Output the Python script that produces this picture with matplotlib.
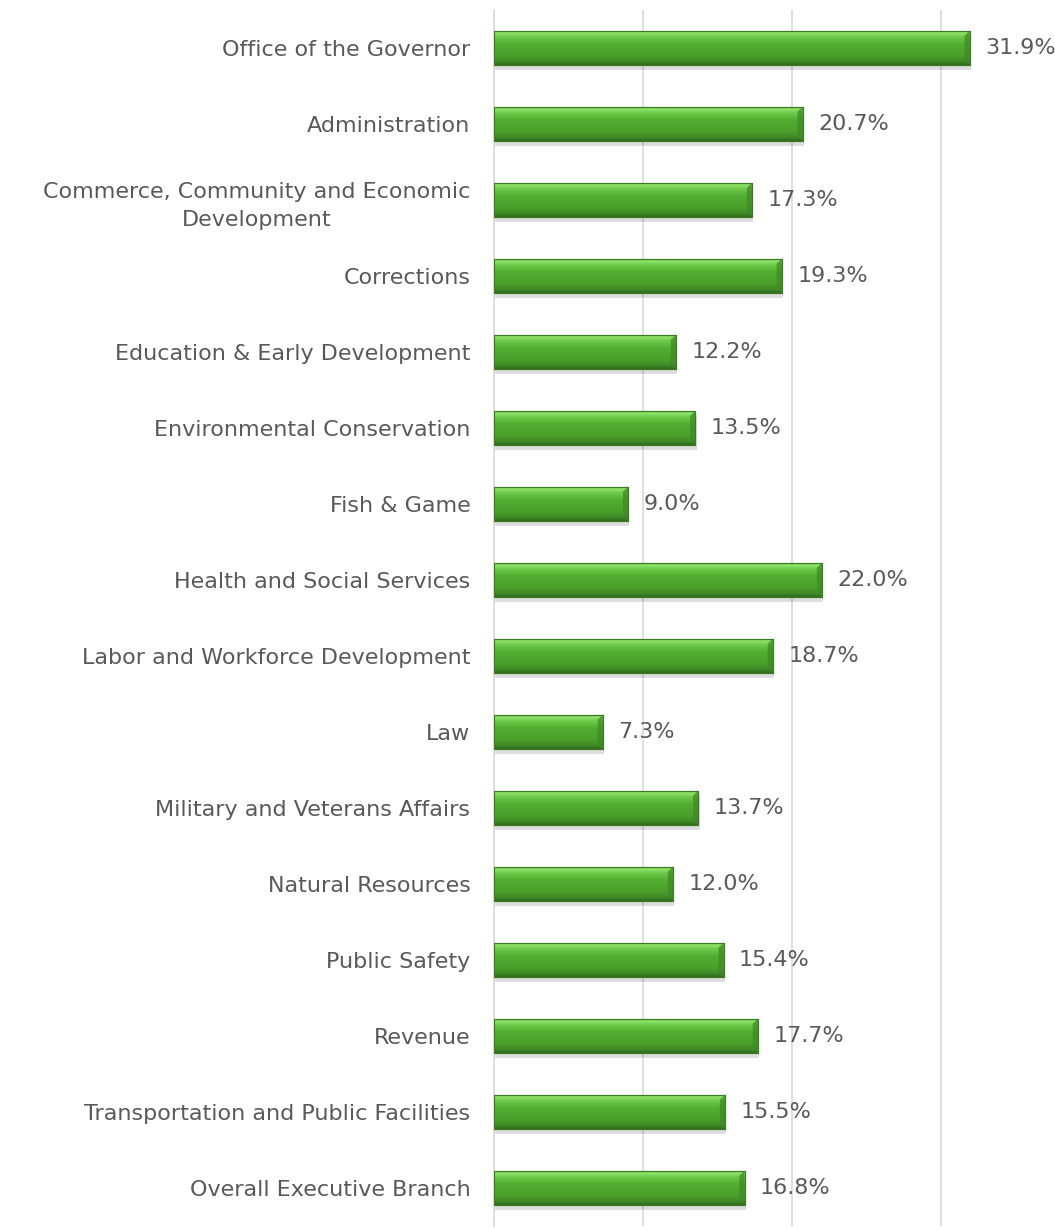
import matplotlib

matplotlib.use("Agg")
import matplotlib.pyplot as plt  # noqa: E402
import numpy as np  # noqa: E402
from matplotlib.colors import LinearSegmentedColormap  # noqa: E402
from matplotlib.patches import Polygon, Rectangle  # noqa: E402

departments = [
    "Office of the Governor",
    "Administration",
    "Commerce, Community and Economic\nDevelopment",
    "Corrections",
    "Education & Early Development",
    "Environmental Conservation",
    "Fish & Game",
    "Health and Social Services",
    "Labor and Workforce Development",
    "Law",
    "Military and Veterans Affairs",
    "Natural Resources",
    "Public Safety",
    "Revenue",
    "Transportation and Public Facilities",
    "Overall Executive Branch",
]
values = [31.9, 20.7, 17.3, 19.3, 12.2, 13.5, 9.0, 22.0, 18.7, 7.3,
          13.7, 12.0, 15.4, 17.7, 15.5, 16.8]
grid_ticks = [0, 10, 20, 30]

TEXT = "#595959"
GRID = "#d9d9d9"
BAR_H = 0.46

# bevel gradient, top -> bottom
bevel = LinearSegmentedColormap.from_list("bevel", [
    (0.00, "#5fae3e"),
    (0.08, "#8fe36b"),
    (0.20, "#6cc948"),
    (0.40, "#52ad31"),
    (0.75, "#4a9f2c"),
    (0.90, "#3f8a25"),
    (1.00, "#336b1d"),
])
grad = np.linspace(0, 1, 64).reshape(-1, 1)

fig = plt.figure(figsize=(10.55, 12.28), dpi=100)
ax = fig.add_axes([494 / 1055, 2 / 1228, (1016 - 494) / 1055, 1216 / 1228])

ypos = list(range(len(values)))

# soft drop shadow
for y, v in zip(ypos, values):
    ax.add_patch(Rectangle((0.08, y - BAR_H / 2 + 0.06), v, BAR_H,
                           facecolor="#000000", alpha=0.13, lw=0, zorder=2))

bars = ax.barh(ypos, values, height=BAR_H, color="#4ea72e", edgecolor="#3a7a22",
               linewidth=0.8, zorder=3)

cap = 0.35  # width of the bevelled end, in data units
for bar, y, v in zip(bars, ypos, values):
    top = y - BAR_H / 2
    bot = y + BAR_H / 2
    im = ax.imshow(grad, cmap=bevel, aspect="auto", origin="upper",
                   extent=[0, v, bot, top], zorder=4,
                   interpolation="bilinear")
    im.set_clip_path(bar)
    # bevelled right end: darker cap with diagonal corner
    ax.add_patch(Polygon([(v - cap, top + 0.07), (v, top), (v, bot),
                          (v - cap, bot - 0.07)], closed=True,
                         facecolor="#3f8a25", alpha=0.75, lw=0, zorder=5))
    ax.add_patch(Rectangle((0, top), v, BAR_H, facecolor="none",
                           edgecolor="#3a7a22", lw=0.8, zorder=6))
    ax.annotate(f"{v:.1f}%", (v, y), xytext=(11, 0), textcoords="offset points",
                ha="left", va="center", fontsize=16, color=TEXT,
                family=["DejaVu Sans"], zorder=7)

ax.set_xlim(0, 35)
ax.set_ylim(len(values) - 0.5, -0.5)
ax.set_xticks(grid_ticks)
ax.set_xticklabels([])
ax.set_yticks(ypos)
ax.set_yticklabels(departments, fontsize=16, color=TEXT,
                   family=["DejaVu Sans"], multialignment="center",
                   linespacing=1.5)
ax.tick_params(axis="both", length=0)
ax.tick_params(axis="y", pad=17)
ax.grid(axis="x", color=GRID, linewidth=1.2, zorder=0)
ax.set_axisbelow(True)
for side in ["top", "right", "bottom"]:
    ax.spines[side].set_visible(False)
ax.spines["left"].set_color(GRID)
ax.spines["left"].set_linewidth(1.2)
ax.spines["left"].set_zorder(1)

fig.savefig("out.png", dpi=100)
